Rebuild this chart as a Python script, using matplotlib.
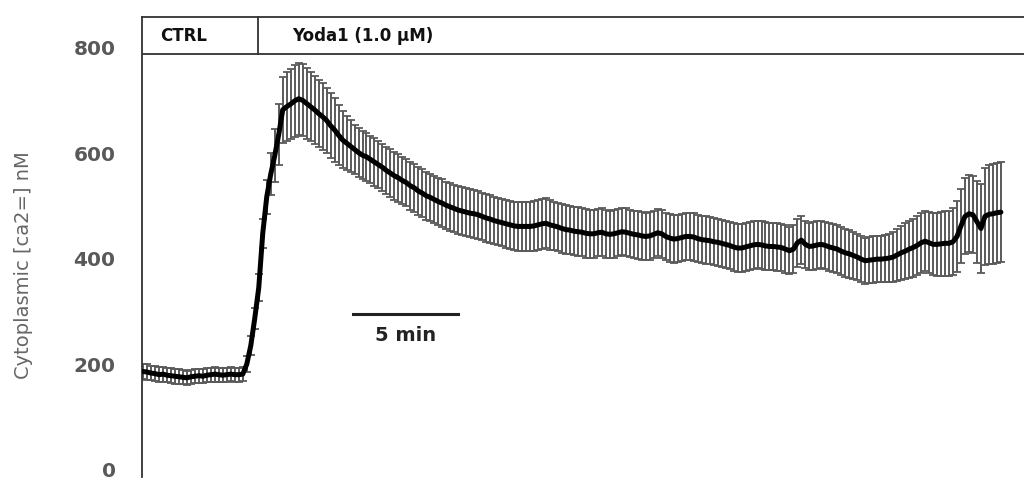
import numpy as np
import matplotlib
matplotlib.use("Agg")
import matplotlib.pyplot as plt

# ---- data ----
sample_interval_min = 0.19  # minutes between samples

mean_nM = [
    186, 185, 183, 182, 180, 181, 179, 178, 177, 176,
    175, 174, 176, 177, 178, 177, 179, 180, 181, 180,
    179, 180, 181, 180, 180, 181, 200, 235, 287, 345,
    448, 517, 560, 595, 635, 682, 688, 693, 699, 703,
    700, 694, 688, 682, 675, 669, 662, 652, 644, 634,
    625, 619, 613, 607, 601, 596, 593, 588, 583, 578,
    573, 567, 562, 557, 553, 548, 544, 538, 534, 528,
    524, 519, 516, 512, 508, 505, 501, 498, 495, 492,
    490, 488, 486, 485, 483, 480, 477, 475, 472, 470,
    468, 466, 464, 462, 461, 461, 461, 461, 462, 464,
    466, 467, 464, 462, 460, 457, 455, 454, 452, 451,
    450, 448, 447, 447, 449, 450, 447, 446, 447, 449,
    451, 450, 448, 446, 445, 443, 442, 443, 446, 449,
    447, 442, 439, 437, 438, 440, 442, 442, 441, 438,
    436, 435, 434, 432, 431, 429, 427, 425, 422, 420,
    420, 422, 424, 426, 427, 426, 424, 423, 423, 422,
    421, 418, 415, 418, 430, 435, 427, 423, 424, 426,
    427, 425, 422, 420, 418, 414, 411, 409, 406, 403,
    399, 396, 397, 398, 399, 399, 400, 401, 403, 407,
    411, 414, 418, 421, 425, 430, 433, 430, 427, 427,
    428, 429, 429, 432, 442, 462, 480, 485, 483, 470,
    457, 480, 484, 485, 487, 488,
]

sem_nM = [
    15, 15, 14, 14, 14, 14, 13, 14, 14, 14,
    13, 13, 13, 13, 13, 13, 13, 13, 14, 13,
    13, 13, 13, 13, 13, 13, 15, 18, 20, 25,
    28, 32, 40, 50, 58, 62, 65, 67, 68, 68,
    68, 67, 66, 65, 64, 63, 62, 61, 60, 57,
    54, 51, 49, 47, 46, 45, 45, 45, 45, 45,
    45, 45, 45, 45, 45, 45, 45, 45, 45, 45,
    45, 45, 45, 45, 45, 45, 45, 45, 45, 45,
    45, 45, 45, 45, 45, 45, 45, 45, 45, 45,
    45, 45, 46, 46, 47, 47, 47, 47, 47, 47,
    47, 47, 47, 46, 46, 46, 46, 46, 46, 46,
    46, 46, 46, 46, 45, 45, 45, 45, 45, 45,
    45, 45, 45, 45, 45, 45, 45, 45, 45, 45,
    45, 45, 45, 45, 45, 45, 45, 45, 45, 45,
    45, 45, 45, 45, 45, 45, 45, 45, 45, 45,
    45, 45, 45, 45, 45, 45, 45, 45, 45, 45,
    45, 45, 45, 45, 45, 45, 45, 45, 45, 45,
    45, 45, 45, 45, 45, 45, 45, 45, 45, 44,
    44, 44, 44, 44, 44, 44, 44, 45, 47, 49,
    51, 53, 54, 55, 56, 57, 57, 58, 59, 60,
    61, 62, 62, 63, 68, 70, 72, 73, 73, 78,
    84, 92, 94, 95, 95, 95,
]

y_ticks = [0, 200, 400, 600, 800]
y_label = "Cytoplasmic [ca2=] nM"
phase_labels = ["CTRL", "Yoda1 (1.0 μM)"]
yoda_start_min = 5.48
scale_bar_min = 5
scale_bar_label = "5 min"

time_min = np.arange(len(mean_nM)) * sample_interval_min

# ---- figure ----
fig = plt.figure(figsize=(10.24, 4.82), dpi=100)
ax = fig.add_axes([142 / 1024, 5 / 482, 882 / 1024, 460 / 482])

ax.errorbar(time_min, mean_nM, yerr=sem_nM, fmt="none", ecolor="#5a5a5a",
            elinewidth=1.4, capsize=2.8, capthick=1.3, zorder=2)
ax.plot(time_min, mean_nM, color="black", lw=3.6, solid_joinstyle="round",
        solid_capstyle="round", zorder=3)

ax.set_xlim(-0.05, 41.95)
ax.set_ylim(-14, 858)

for s in ["right", "bottom"]:
    ax.spines[s].set_visible(False)
for s in ["left", "top"]:
    ax.spines[s].set_color("#333333")
    ax.spines[s].set_linewidth(1.3)

ax.set_xticks([])
ax.set_yticks(y_ticks)
ax.set_yticklabels([str(v) for v in y_ticks])
ax.tick_params(axis="y", length=0, pad=19, labelsize=14.5, labelcolor="#595959")
for lab in ax.get_yticklabels():
    lab.set_fontweight("bold")

# treatment box
ax.axhline(787, color="#333333", lw=1.3, zorder=4)
ax.plot([yoda_start_min, yoda_start_min], [787, 858], color="#333333", lw=1.3,
        clip_on=False, zorder=4)
ax.text(0.8, 822, phase_labels[0], fontsize=12, fontweight="bold",
        ha="left", va="center", color="#111111")
ax.text(7.1, 822, phase_labels[1], fontsize=12, fontweight="bold",
        ha="left", va="center", color="#111111")

# scale bar
ax.plot([10.0, 10.0 + scale_bar_min], [295, 295], color="#222222", lw=2.2)
ax.text(12.5, 255, scale_bar_label, fontsize=14, fontweight="bold",
        ha="center", va="center", color="#222222")

fig.text(24 / 1024, 1 - 265 / 482, y_label, rotation=90, ha="center",
         va="center", fontsize=14, color="#666666")

fig.savefig("out.png", dpi=100, facecolor="white")
